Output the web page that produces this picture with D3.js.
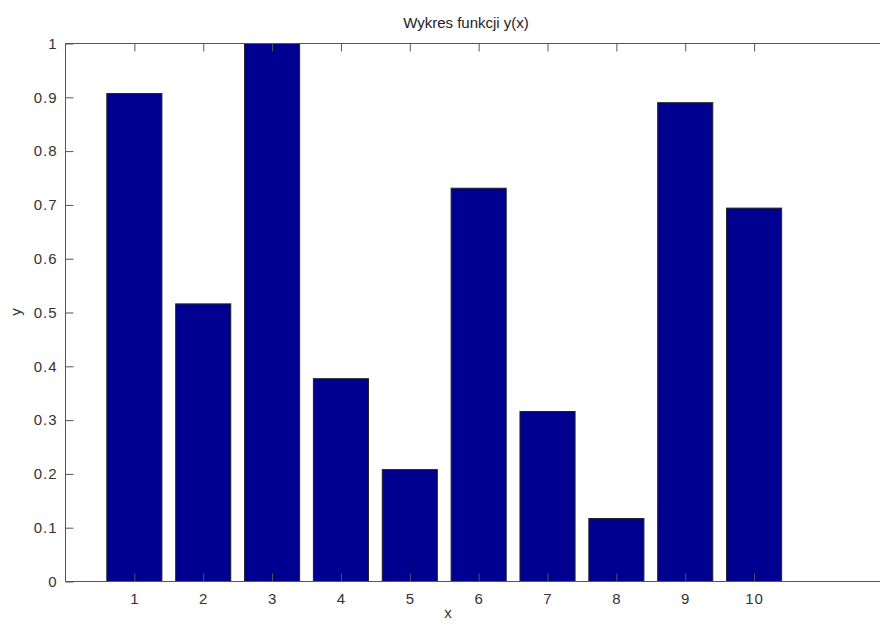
<!DOCTYPE html>
<html>
<head>
<meta charset="utf-8">
<script src="https://cdn.jsdelivr.net/npm/d3@7"></script>
<style>
  body { margin: 0; background: #fff; }
  svg { display: block; font-family: "Liberation Sans", Arial, sans-serif; }
</style>
</head>
<body>
<div id="chart"></div>
<script>
const x_values = [1, 2, 3, 4, 5, 6, 7, 8, 9, 10];
const y_values = [0.907, 0.516, 1.0, 0.377, 0.208, 0.731, 0.316, 0.117, 0.890, 0.694];
const y_ticks = [0, 0.1, 0.2, 0.3, 0.4, 0.5, 0.6, 0.7, 0.8, 0.9, 1];

const width = 880;
const height = 625;

const left = 65.5;
const top_edge = 43.5;
const bottom = 581.5;
const unit = 68.86;

const svg = d3.select("#chart")
  .append("svg")
  .attr("width", width)
  .attr("height", height);

const x = d3.scaleLinear().domain([0, 12]).range([left, left + 12 * unit]);
const y = d3.scaleLinear().domain([0, 1]).range([bottom, top_edge]);

const bar_width = 0.8 * unit;

// bars
svg.selectAll("rect.bar")
  .data(x_values)
  .enter()
  .append("rect")
  .attr("class", "bar")
  .attr("x", (d) => x(d) - bar_width / 2)
  .attr("y", (d, i) => y(y_values[i]))
  .attr("width", bar_width)
  .attr("height", (d, i) => y(0) - y(y_values[i]))
  .attr("fill", "#000090")
  .attr("stroke", "#222")
  .attr("stroke-width", 1);

const axis_col = "#555";

// frame lines (right side falls off the picture)
svg.append("line")
  .attr("x1", left).attr("x2", width).attr("y1", top_edge).attr("y2", top_edge)
  .attr("stroke", axis_col);
svg.append("line")
  .attr("x1", left).attr("x2", width).attr("y1", bottom).attr("y2", bottom)
  .attr("stroke", axis_col);
svg.append("line")
  .attr("x1", left).attr("x2", left).attr("y1", top_edge).attr("y2", bottom)
  .attr("stroke", axis_col);

// bottom axis (ticks point inward)
const xaxis = svg.append("g")
  .attr("transform", `translate(0,${bottom})`)
  .call(d3.axisBottom(x).tickValues(x_values).tickSizeInner(-8).tickSizeOuter(0).tickPadding(12));
xaxis.select(".domain").remove();

// top ticks
const xtop = svg.append("g")
  .attr("transform", `translate(0,${top_edge})`)
  .call(d3.axisTop(x).tickValues(x_values).tickSizeInner(-8).tickSizeOuter(0).tickFormat(""));
xtop.select(".domain").remove();

// left axis
const yaxis = svg.append("g")
  .attr("transform", `translate(${left},0)`)
  .call(d3.axisLeft(y).tickValues(y_ticks).tickSizeInner(-8).tickSizeOuter(0).tickPadding(8)
    .tickFormat((d) => d3.format("")(+d.toFixed(1))));
yaxis.select(".domain").remove();

svg.selectAll("g").attr("font-size", 15);
svg.selectAll(".tick line").attr("stroke", axis_col);
svg.selectAll(".tick text")
  .attr("fill", "#333")
  .attr("font-size", 15)
  .attr("letter-spacing", 1)
  .attr("font-family", "'Liberation Sans', Arial, sans-serif");

// title and labels
svg.append("text")
  .attr("x", 466)
  .attr("y", 28)
  .attr("text-anchor", "middle")
  .attr("fill", "#222")
  .attr("font-size", 15)
  .text("Wykres funkcji y(x)");

svg.append("text")
  .attr("x", 448)
  .attr("y", 618)
  .attr("text-anchor", "middle")
  .attr("fill", "#333")
  .attr("font-size", 15)
  .text("x");

svg.append("text")
  .attr("transform", "translate(21,312) rotate(-90)")
  .attr("text-anchor", "middle")
  .attr("fill", "#333")
  .attr("font-size", 15)
  .text("y");
</script>
</body>
</html>
